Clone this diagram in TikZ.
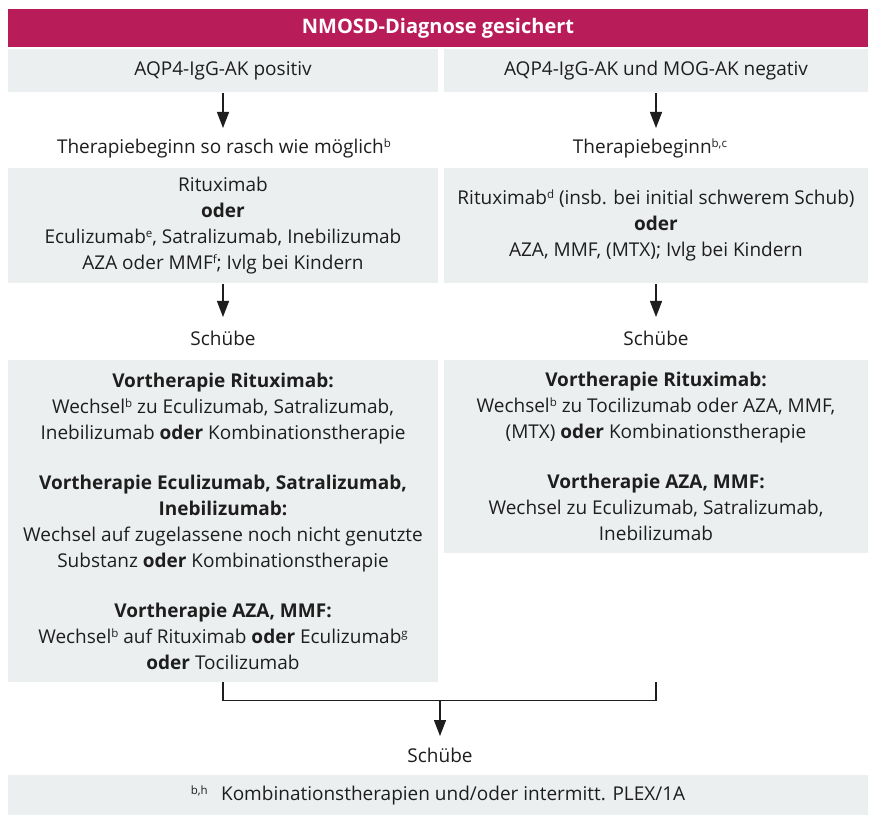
\documentclass[tikz,border=0pt]{standalone}
\usepackage{fontspec}
\setmainfont{Open Sans}
\usetikzlibrary{arrows.meta}
\definecolor{hdr}{RGB}{185,29,89}
\definecolor{boxg}{RGB}{236,239,240}
\definecolor{ink}{RGB}{30,30,30}
\newcommand{\supr}[1]{\raisebox{0.6ex}{\fontsize{11.5}{11.5}\selectfont #1}}
\begin{document}
\begin{tikzpicture}[x=1pt,y=-1pt,
  txt/.style={inner sep=0pt, align=center, text=ink, font=\fontsize{19}{26}\selectfont},
  box/.style={txt, fill=boxg},
  arr/.style={line width=1.3pt, draw=ink, -{Triangle[length=16pt,width=12pt]}},
  ln/.style={line width=1.3pt, draw=ink}]
\useasboundingbox (0,0) rectangle (871,818);
\fill[white] (0,0) rectangle (871,818);
% header
\node[inner sep=0pt, fill=hdr, text=white, minimum width=860pt, minimum height=38pt,
  font=\fontsize{20}{22}\selectfont\bfseries] (hd) at (438,28) {NMOSD-Diagnose gesichert};
% row 1
\node[box, minimum width=430pt, minimum height=43pt] (a1) at (223,70.5) {AQP4-IgG-AK positiv};
\node[box, minimum width=424pt, minimum height=43pt] (a2) at (656,70.5) {AQP4-IgG-AK und MOG-AK negativ};
% therapy start
\node[txt] (t1) at (224,148) {Therapiebeginn so rasch wie möglich\supr{b}};
\node[txt] (t2) at (650,148) {Therapiebeginn\supr{b,c}};
\draw[arr] ([yshift=-1pt]a1.south) -- (a1.south |- 0,128) coordinate (e1);
\draw[arr] ([yshift=-1pt]a2.south) -- (a2.south |- 0,128) coordinate (e2);
% row 2
\node[box, minimum width=430pt, minimum height=115pt] (b1) at (223,225.5)
  {Rituximab\\ \textbf{oder}\\ Eculizumab\supr{e}, Satralizumab, Inebilizumab\\ AZA oder MMF\supr{f}; Ivlg bei Kindern};
\node[box, minimum width=424pt, minimum height=115pt] (b2) at (656,225.5)
  {Rituximab\supr{d} (insb. bei initial schwerem Schub)\\ \textbf{oder}\\ AZA, MMF, (MTX); Ivlg bei Kindern};
\node[txt] (s1) at (223,338) {Schübe};
\node[txt] (s2) at (656,338) {Schübe};
\draw[arr] ([yshift=-1pt]b1.south) -- (b1.south |- 0,317);
\draw[arr] ([yshift=-1pt]b2.south) -- (b2.south |- 0,317);
% row 3
\node[box, minimum width=430pt, minimum height=322pt] (c1) at (223,521)
  {\textbf{Vortherapie Rituximab:}\\ Wechsel\supr{b} zu Eculizumab, Satralizumab,\\ Inebilizumab \textbf{oder} Kombinationstherapie\\[24pt]
   \textbf{Vortherapie Eculizumab, Satralizumab,}\\ \textbf{Inebilizumab:}\\ Wechsel auf zugelassene noch nicht genutzte\\ Substanz \textbf{oder} Kombinationstherapie\\[24pt]
   \textbf{Vortherapie AZA, MMF:}\\ Wechsel\supr{b} auf Rituximab \textbf{oder} Eculizumab\supr{g}\\ \textbf{oder} Tocilizumab};
\node[box, minimum width=424pt, minimum height=193pt] (c2) at (656,456.5)
  {\textbf{Vortherapie Rituximab:}\\ Wechsel\supr{b} zu Tocilizumab oder AZA, MMF,\\ (MTX) \textbf{oder} Kombinationstherapie\\[24pt]
   \textbf{Vortherapie AZA, MMF:}\\ Wechsel zu Eculizumab, Satralizumab,\\ Inebilizumab};
% join
\coordinate (rt) at (c2.south |- c1.south);
\draw[ln] (c1.south) -- ++(0,18) coordinate (jl) -- (jl -| rt) -- (rt);
\node[txt] (s3) at (440,755) {Schübe};
\draw[arr] (jl -| s3) -- (s3 |- 0,736);
% bottom
\node[box, minimum width=860pt, minimum height=40pt] (bt) at (438,795)
  {\supr{b,h}\;\, Kombinationstherapien und/oder intermitt. PLEX/1A};
\end{tikzpicture}
\end{document}
